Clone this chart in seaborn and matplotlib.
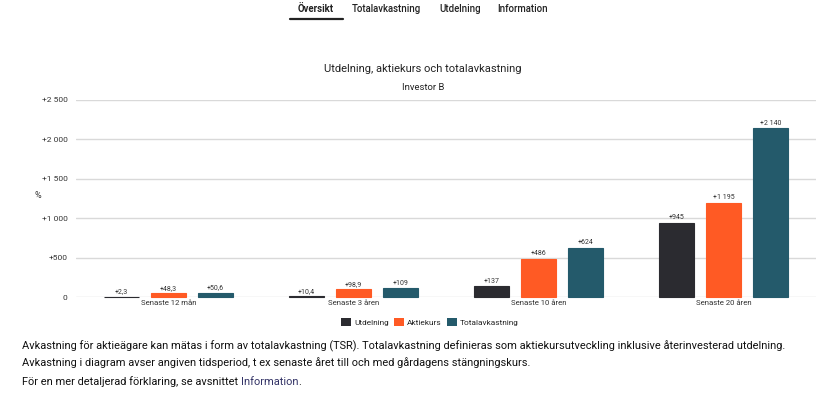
import matplotlib
matplotlib.use("Agg")
import matplotlib.pyplot as plt
import seaborn as sns
import pandas as pd
from matplotlib.patches import Patch
from matplotlib.lines import Line2D

categories = ["Senaste 12 mån", "Senaste 3 åren", "Senaste 10 åren", "Senaste 20 åren"]
series = ["Utdelning", "Aktiekurs", "Totalavkastning"]
utdelning = [2.3, 10.4, 137, 945]
aktiekurs = [48.3, 98.9, 486, 1195]
totalavkastning = [50.6, 109, 624, 2140]
yticks = [0, 500, 1000, 1500, 2000, 2500]
colors = ["#2b2b30", "#ff5a24", "#245a6b"]

sns.set_theme(style="white")
plt.rcParams["font.family"] = ["Roboto", "DejaVu Sans"]

W, H = 820, 407
fig = plt.figure(figsize=(8.2, 4.07), dpi=100)
renderer = fig.canvas.get_renderer()

def fit_size(text, target_px, weight="normal"):
    t = fig.text(0, 0, text, fontsize=10, fontweight=weight)
    w = t.get_window_extent(renderer=renderer).width
    t.remove()
    return 10 * target_px / w

rows = []
for name, vals in zip(series, [utdelning, aktiekurs, totalavkastning]):
    for c, v in zip(categories, vals):
        rows.append({"Period": c, "Serie": name, "Värde": v})
df = pd.DataFrame(rows)

ax = fig.add_axes([76/W, 1-297/H, 740/W, 197/H])

sns.barplot(data=df, x="Period", y="Värde", hue="Serie", order=categories,
            hue_order=series, palette=colors, saturation=1, width=0.76, gap=0.25,
            linewidth=0, legend=False, ax=ax, zorder=3)
for cont in ax.containers:
    for p in cont.patches:
        p.set_edgecolor(p.get_facecolor())
        p.set_linewidth(0.8)
        p.set_clip_on(False)

def fmt_num(v):
    if float(v).is_integer():
        s = f"{int(v):,}".replace(",", " ")
    else:
        s = f"{v:.1f}".replace(".", ",")
    return s

for cont, vals in zip(ax.containers, [utdelning, aktiekurs, totalavkastning]):
    ax.bar_label(cont, labels=["+" + fmt_num(v) for v in vals], fontsize=5,
                 padding=1, color="#333333")

ax.set_ylim(0, 2500)
ax.set_xlim(-0.5, 3.5)
ax.set_yticks(yticks)
ax.set_yticklabels(["0" if t == 0 else "+" + fmt_num(t) for t in yticks],
                   fontsize=6, color="#333333")
ax.tick_params(axis="y", length=0, pad=6)
cat_fs = fit_size("Senaste 12 mån", 56)
ax.tick_params(axis="x", length=0, pad=2, labelsize=cat_fs, labelcolor="#333333")
ax.set_xticks(range(4))
ax.set_xticklabels(categories)
ax.set_xticks([0.5, 1.5, 2.5, 3.5], minor=True)
ax.tick_params(axis="x", which="minor", length=4, color="#cccccc", width=0.8)
ax.grid(axis="y", color="#d9d9d9", linewidth=1, zorder=0)
for s in ax.spines.values():
    s.set_visible(False)
ax.set_xlabel("")
ax.set_ylabel("")

fig.text(38/W, 1-195/H, "%", fontsize=6.5, color="#333333", ha="center", va="center")

# Tabs
tab_fs = fit_size("Totalavkastning", 69, "medium")
tabs = [("Översikt", 316, True), ("Totalavkastning", 386, False),
        ("Utdelning", 460, False), ("Information", 523, False)]
for t, x, b in tabs:
    fig.text(x/W, 1-9/H, t, fontsize=tab_fs, ha="center", va="center",
             color="#222222", fontweight="bold" if b else "medium")
fig.add_artist(Line2D([290/W, 343/W], [1-19/H, 1-19/H], color="#222222", lw=1.6))

title_fs = fit_size("Utdelning, aktiekurs och totalavkastning", 198)
fig.text(423/W, 1-69/H, "Utdelning, aktiekurs och totalavkastning",
         fontsize=title_fs, ha="center", va="center", color="#222222")
fig.text(423/W, 1-87/H, "Investor B", fontsize=title_fs*0.85, ha="center", va="center", color="#222222")

leg_fs = fit_size("Utdelning", 35)
handles = [Patch(facecolor=c, edgecolor="none", label=s) for c, s in zip(colors, series)]
fig.legend(handles=handles, loc="center", bbox_to_anchor=(430/W, 1-322/H), ncol=3,
           frameon=False, fontsize=leg_fs, handlelength=1.2, handleheight=1.2,
           handletextpad=0.4, columnspacing=0.6)

line1 = "Avkastning för aktieägare kan mätas i form av totalavkastning (TSR). Totalavkastning definieras som aktiekursutveckling inklusive återinvesterad utdelning."
line2 = "Avkastning i diagram avser angiven tidsperiod, t ex senaste året till och med gårdagens stängningskurs."
body_fs = fit_size(line1, 763)
fig.text(22/W, 1-346/H, line1, fontsize=body_fs, ha="left", va="center", color="#111111")
fig.text(22/W, 1-363/H, line2, fontsize=body_fs, ha="left", va="center", color="#111111")
t1 = fig.text(22/W, 1-382/H, "För en mer detaljerad förklaring, se avsnittet ", fontsize=body_fs,
              ha="left", va="center", color="#111111")
bb = t1.get_window_extent(renderer=renderer)
t2 = fig.text(bb.x1/W, 1-382/H, "Information", fontsize=body_fs, ha="left", va="center", color="#333366")
bb2 = t2.get_window_extent(renderer=renderer)
fig.text(bb2.x1/W, 1-382/H, ".", fontsize=body_fs, ha="left", va="center", color="#111111")

fig.savefig("out.png", dpi=100)
